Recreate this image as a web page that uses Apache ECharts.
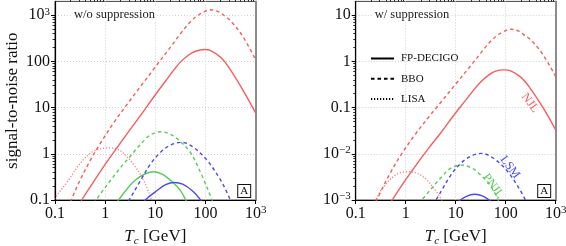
<!DOCTYPE html>
<html><head><meta charset="utf-8">
<script src="https://cdn.jsdelivr.net/npm/echarts@6/dist/echarts.min.js"></script>
<style>html,body{margin:0;padding:0;background:#fff}#c{width:566px;height:246px}</style>
</head><body><div id="c"></div>
<script>
// ---------- data (Tc in GeV, signal-to-noise ratio) ----------
// Left panel: w/o suppression
const tcFpNjlL   = [0.25,0.342,0.5,1,2,3.16,5,10,15.85,23.4,31.6,44.7,63,95.5,126,200,300,550,1000];
const snrFpNjlL  = [0.056,0.1,0.19,0.59,1.7,3.39,6.6,19,37.2,65.5,96.6,134.6,166,181,171,123,71,24.5,7.6];
const tcBboNjlL  = [0.158,0.2,0.316,0.5,0.794,1.5,3,5,10,20,31.6,50,70.8,89,122,178,251,316,562,1000];
const snrBboNjlL = [0.05,0.089,0.269,0.71,1.66,4.79,13.5,28.2,76,204,398,724,1000,1148,1318,1202,933,759,339,107];
const tcLisaNjlL = [0.08,0.1,0.18,0.34,0.6,1.2,2,4,6,8,10];
const snrLisaNjlL= [0.071,0.11,0.257,0.68,1.15,1.35,1.17,0.52,0.25,0.115,0.056];
const tcBboPnjlL = [0.5,0.7,1.8,3,5,8,13,22,30,50,80,135,180];
const snrBboPnjlL= [0.063,0.11,0.43,0.83,1.58,2.57,3.0,2.5,1.93,1.07,0.39,0.1,0.043];
const tcFpPnjlL  = [1.6,1.85,2.8,4,6.3,9.3,14,23,32,40,50];
const snrFpPnjlL = [0.076,0.1,0.18,0.27,0.37,0.41,0.36,0.234,0.158,0.102,0.063];
const tcBboLsmL  = [2.5,3,5,8,12.6,20,33,56,108,200,293,355];
const snrBboLsmL = [0.071,0.1,0.257,0.6,1.07,1.55,1.77,1.41,0.72,0.27,0.117,0.071];
const tcFpLsmL   = [5.6,6.3,10,16,24,35,56,80,100];
const snrFpLsmL  = [0.079,0.1,0.15,0.214,0.24,0.22,0.155,0.1,0.071];
// Right panel: w/ suppression
const tcFpNjlR   = [0.342,0.5,1,2,3.16,5,10,15.85,23.4,31.6,44.7,63,95.5,126,200,300,550,1000];
const snrFpNjlR  = [0.00047,0.00089,0.00275,0.0079,0.0151,0.0282,0.0776,0.145,0.249,0.359,0.5,0.617,0.658,0.622,0.457,0.275,0.102,0.033];
const tcBboNjlR  = [0.158,0.2,0.316,0.5,0.794,1.5,3,5,10,20,31.6,50,70.8,89,122,178,251,316,562,1000];
const snrBboNjlR = [0.00028,0.0005,0.00151,0.00398,0.0093,0.0251,0.066,0.129,0.324,0.81,1.51,2.75,3.8,4.37,5.0,4.57,3.55,2.95,1.38,0.47];
const tcLisaNjlR = [0.16,0.25,0.34,0.63,1.12,2.15,4,5.25,6.3];
const snrLisaNjlR= [0.0005,0.001,0.00178,0.00347,0.0041,0.0033,0.00158,0.001,0.00069];
const tcBboPnjlR = [1.8,3,5,8,13,22,30,50,80];
const snrBboPnjlR= [0.00082,0.00158,0.003,0.0049,0.0057,0.0048,0.00367,0.00204,0.00074];
const tcBboLsmR  = [3,5,8,12.6,20,33,56,108,200,293];
const snrBboLsmR = [0.00058,0.00148,0.00347,0.0062,0.0089,0.0102,0.0081,0.0042,0.00155,0.00068];
const tcFpLsmR   = [10,16,24,35,56];
const snrFpLsmR  = [0.00084,0.00118,0.00133,0.00121,0.00086];

// ticks / labels
const xTickValues  = [0.1,1,10,100,1000];
const yTickValuesL = [0.1,1,10,100,1000];
const yTickValuesR = [0.001,0.01,0.1,1,10];
const legendNames  = ['FP-DECIGO','BBO','LISA'];
const panelTitles  = ['w/o suppression','w/ suppression'];
const modelLabels  = [
  {text:'NJL',  at:[306,0.126],  color:'#f85c5c'},
  {text:'LSM',  at:[122,0.0051], color:'#4a4af5'},
  {text:'PNJL', at:[56,0.002],   color:'#58cc58'}
];

// ---------- style ----------
const FONT = 'Liberation Serif';
const RED = '#f85c5c', GREEN = '#58cc58', BLUE = '#4a4af5', PINK = '#ff7a7a';
const GRIDS = [
  {left:55,    top:1.4, width:200.7, height:198.6},
  {left:355.7, top:1.4, width:200,   height:198.6}
];

function minorsBetween(lo, hi){
  const out = [];
  for (let d = lo; d < hi * 0.999; d *= 10) {
    for (let k = 2; k <= 9; k++) out.push(Number((d * k).toPrecision(3)));
  }
  return out;
}
const xMinor  = minorsBetween(0.1, 1000);
const yMinorL = minorsBetween(0.1, 1000);
const yMinorR = minorsBetween(0.001, 10);

const richNum = {
  b: {fontFamily: FONT, fontSize: 16, color: '#111', lineHeight: 18},
  s: {fontFamily: FONT, fontSize: 11, color: '#111', verticalAlign: 'top', lineHeight: 11}
};
function fmt(v){
  const e = Math.round(Math.log10(v));
  if (Math.abs(Math.log10(v) - e) > 1e-6) return '';
  if (e >= 3) return '{b|10}{s|' + e + '}';
  if (e <= -2) return '{b|10}{s|\u2212' + (-e) + '}';
  if (e === -1) return '{b|0.1}';
  return '{b|' + Math.pow(10, e) + '}';
}

function mainX(gi){
  return {
    type:'log', gridIndex:gi, min:0.1, max:1000,
    axisLine:{show:true, onZero:false, lineStyle:{color:'#000', width:1.2}},
    axisTick:{show:true, inside:false, length:4, customValues:xTickValues, lineStyle:{color:'#000', width:1}},
    axisLabel:{show:true, customValues:xTickValues, formatter:fmt, rich:richNum, margin:5, fontFamily:FONT, fontSize:16, color:'#111'},
    splitLine:{show:true, lineStyle:{type:[1,2], color:'#cfcfcf', width:1}},
    name:'{i|T}{c|c}{n| [GeV]}', nameLocation:'middle', nameGap:27,
    nameTextStyle:{rich:{
      i:{fontFamily:FONT, fontStyle:'italic', fontSize:17, color:'#111', lineHeight:20},
      c:{fontFamily:FONT, fontStyle:'italic', fontSize:11, color:'#111', verticalAlign:'bottom', lineHeight:16},
      n:{fontFamily:FONT, fontSize:17, color:'#111', lineHeight:20}
    }}
  };
}
function minorX(gi){
  return {type:'log', gridIndex:gi, min:0.1, max:1000,
    axisLine:{show:false}, axisLabel:{show:false}, splitLine:{show:false},
    axisTick:{show:true, inside:false, length:2.5, customValues:xMinor, lineStyle:{color:'#000', width:0.8}}};
}
function mainY(gi, min, max, ticks, name){
  return {
    type:'log', gridIndex:gi, min, max, position:'left',
    axisLine:{show:true, onZero:false, lineStyle:{color:'#000', width:1.2}},
    axisTick:{show:true, inside:false, length:4, customValues:ticks, lineStyle:{color:'#000', width:1}},
    axisLabel:{show:true, customValues:ticks, formatter:fmt, rich:richNum, margin:5, fontFamily:FONT, fontSize:16, color:'#111'},
    splitLine:{show:true, lineStyle:{type:[1,2], color:'#cfcfcf', width:1}},
    name: name || '', nameLocation:'middle', nameGap:34, nameRotate:90,
    nameTextStyle:{fontFamily:FONT, fontSize:17, color:'#111'}
  };
}
function minorY(gi, min, max, ticks){
  return {type:'log', gridIndex:gi, min, max, position:'left',
    axisLine:{show:false}, axisLabel:{show:false}, splitLine:{show:false},
    axisTick:{show:true, inside:false, length:2.5, customValues:ticks, lineStyle:{color:'#000', width:0.8}}};
}
function edgeY(gi, min, max){
  return {type:'log', gridIndex:gi, min, max, position:'right',
    axisLine:{show:true, onZero:false, lineStyle:{color:'#8c8c8c', width:2}},
    axisTick:{show:false}, axisLabel:{show:false}, splitLine:{show:false}};
}

function line(tc, snr, color, kind, gi, name){
  return {
    type:'line', name: name, xAxisIndex: gi*2, yAxisIndex: gi*3,
    data: tc.map((t,i)=>[t, snr[i]]),
    symbol:'none', showSymbol:false, smooth:0.35, clip:true, silent:true,
    lineStyle:{color, width: kind==='dotted'?1.3:1.4,
      type: kind==='dashed'?[3.5,3]:(kind==='dotted'?[1.2,1.8]:'solid'), cap:'butt'},
    itemStyle:{color}, z:3
  };
}

const Y_MAX_L = Math.pow(10, 3.3), Y_MAX_R = Math.pow(10, 1.3);

const option = {
  animation:false,
  backgroundColor:'#fff',
  grid: GRIDS.map(g => Object.assign({show:true, borderColor:'#444', borderWidth:1, backgroundColor:'transparent',
    containLabel:false, outerBoundsMode:'none'}, g)),
  xAxis: [mainX(0), minorX(0), mainX(1), minorX(1)],
  yAxis: [
    mainY(0, 0.1, Y_MAX_L, yTickValuesL, 'signal-to-noise ratio'), minorY(0, 0.1, Y_MAX_L, yMinorL), edgeY(0, 0.1, Y_MAX_L),
    mainY(1, 0.001, Y_MAX_R, yTickValuesR, ''), minorY(1, 0.001, Y_MAX_R, yMinorR), edgeY(1, 0.001, Y_MAX_R)
  ],
  legend:{
    data: legendNames, orient:'vertical', left:370, top:53, padding:0, itemWidth:23, itemHeight:10, itemGap:9.2,
    selectedMode:false,
    itemStyle:{color:'rgba(0,0,0,0)', borderWidth:0, opacity:0},
    textStyle:{fontFamily:FONT, fontSize:11, color:'#111', lineHeight:10, padding:[0,0,0,2]}
  },
  series: [
    line(tcLisaNjlL, snrLisaNjlL, PINK, 'dotted', 0),
    line(tcBboNjlL, snrBboNjlL, RED, 'dashed', 0),
    line(tcFpNjlL, snrFpNjlL, RED, 'solid', 0),
    line(tcBboPnjlL, snrBboPnjlL, GREEN, 'dashed', 0),
    line(tcFpPnjlL, snrFpPnjlL, GREEN, 'solid', 0),
    line(tcBboLsmL, snrBboLsmL, BLUE, 'dashed', 0),
    line(tcFpLsmL, snrFpLsmL, BLUE, 'solid', 0),
    line(tcLisaNjlR, snrLisaNjlR, PINK, 'dotted', 1),
    line(tcBboNjlR, snrBboNjlR, RED, 'dashed', 1),
    line(tcFpNjlR, snrFpNjlR, RED, 'solid', 1),
    line(tcBboPnjlR, snrBboPnjlR, GREEN, 'dashed', 1),
    line(tcBboLsmR, snrBboLsmR, BLUE, 'dashed', 1),
    line(tcFpLsmR, snrFpLsmR, BLUE, 'solid', 1),
    line([], [], '#000', 'solid', 1, legendNames[0]),
    line([], [], '#000', 'dashed', 1, legendNames[1]),
    line([], [], '#000', 'dotted', 1, legendNames[2])
  ]
};

const chart = echarts.init(document.getElementById('c'), null, {renderer:'canvas'});
chart.setOption(option);

// annotations placed from data coordinates / grid rects
const graphics = [];
GRIDS.forEach((g, gi) => {
  graphics.push({
    type:'text', x: g.left + 17, y: 14.5, z: 10,
    style:{text: panelTitles[gi], fill:'#222', font: '12.5px "Liberation Serif"', align:'left', verticalAlign:'middle',
      backgroundColor:'#fff', padding:[1,2,1,2]}
  });
  graphics.push({
    type:'text', x: g.left + g.width - 11.5, y: g.top + g.height - 9, z: 10,
    style:{text:'A', fill:'#111', font:'11px "Liberation Serif"', align:'center', verticalAlign:'middle',
      backgroundColor:'#fff', borderColor:'#111', borderWidth:1, padding:[1,2,0,2]}
  });
});
modelLabels.forEach(m => {
  const p = chart.convertToPixel({xAxisIndex:2, yAxisIndex:3}, m.at);
  graphics.push({
    type:'text', x: p[0], y: p[1], rotation: -0.93, z: 10,
    style:{text: m.text, fill: m.color, font:'12px "Liberation Serif"', align:'center', verticalAlign:'middle'}
  });
});
chart.setOption({graphic: graphics});
</script>
</body></html>
